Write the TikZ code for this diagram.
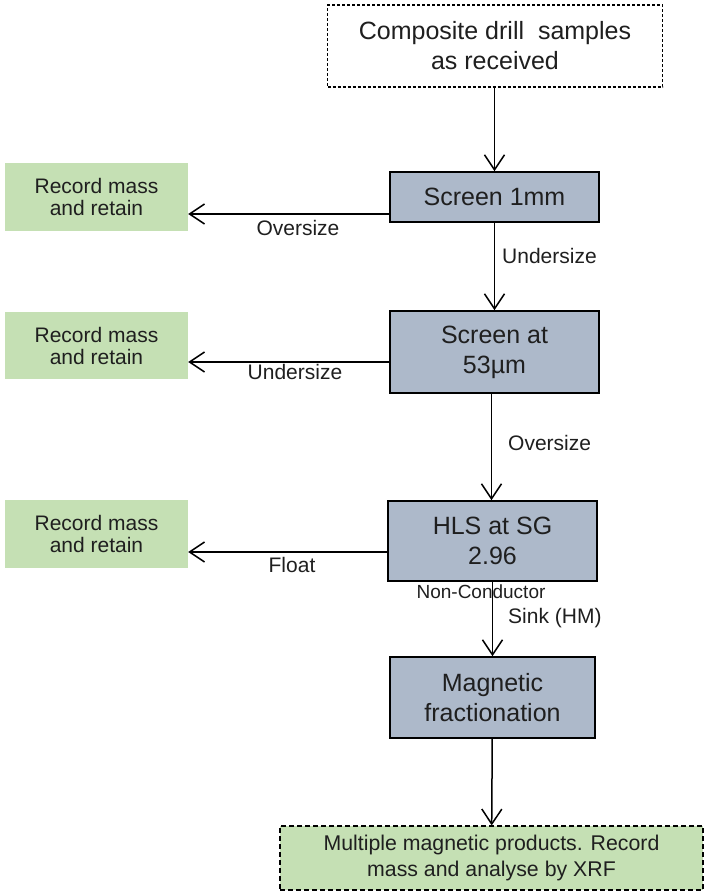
\documentclass[tikz,border=0pt]{standalone}
\usepackage{fontspec}
\setmainfont{Liberation Sans}
\usetikzlibrary{arrows.meta}
\definecolor{stepblue}{HTML}{ADB9CA}
\definecolor{keepgreen}{HTML}{C5E0B4}
\definecolor{txtgray}{HTML}{1F1F1F}

\begin{document}
\begin{tikzpicture}[x=1pt,y=-1pt,
  stage/.style={draw=black,line width=1.7pt,fill=stepblue,text=txtgray,align=center,
    minimum width=209pt,inner sep=0pt,font=\fontsize{25}{30}\selectfont},
  keep/.style={fill=keepgreen,text=txtgray,align=center,minimum width=183pt,
    minimum height=68pt,inner sep=0pt,font=\fontsize{21}{22}\selectfont},
  lbl/.style={text=txtgray,inner sep=0pt,font=\fontsize{21}{24}\selectfont},
  flow/.style={line width=1.5pt,-{Straight Barb[length=15pt,width=20pt,line width=1.5pt]}}]

\useasboundingbox (0,0) rectangle (705,892);

% Feed and the two screens
\node[stage,fill=white,dash pattern=on 3pt off 2pt,line width=1.2pt,minimum width=335pt,minimum height=82pt] (feed) at (495,46) {Composite drill\ \ samples\\as received};
\node[stage,minimum height=50pt] (scrA) at (494.5,197) {Screen 1mm};
\node[stage,minimum height=82pt] (scrB) at (494.5,352) {Screen at\\53µm};

% Heavy liquid and magnetic steps
\node[stage,minimum height=80pt] (hls) at (492.5,541) {HLS at SG\\2.96};
\node[stage,minimum width=205pt,minimum height=81pt] (mag) at (492.5,697.5) {Magnetic\\fractionation};
\node[keep,dash pattern=on 5pt off 3pt,draw=black,line width=1.2pt,minimum width=423pt,minimum height=64pt,font=\fontsize{21.3}{26}\selectfont] (prod) at (491.5,858) {Multiple magnetic products. Record\\mass and analyse by XRF};

% Retained fractions
\node[keep] (recA) at (96.5,197) {Record mass\\and retain};
\node[keep,minimum height=67pt] (recB) at (96.5,345.5) {Record mass\\and retain};
\node[keep] (recC) at (96.5,534) {Record mass\\and retain};

% Main line down
\draw[flow] (feed.south -| scrA.north) -- (scrA.north);
\draw[flow] (scrA) -- (scrB);
\draw[flow] ([xshift=-3pt]scrB.south) -- ([xshift=-3pt]scrB.south |- hls.north);
\draw[flow] (hls) -- (mag);
\draw[flow] (mag) -- (prod);

% Side streams
\coordinate (outA) at ([yshift=-17pt]scrA.west);
\coordinate (outB) at ([yshift=-10pt]scrB.west);
\coordinate (outC) at ([yshift=-11pt]hls.west);
\draw[flow] (outA) -- (outA -| recA.east);
\draw[flow] (outB) -- (outB -| recB.east);
\draw[flow] (outC) -- (outC -| recC.east);

% Stream labels
\node[lbl] (lOverA) at (298,228) {Oversize};
\node[lbl] (lUnderB) at (295,372) {Undersize};
\node[lbl] (lFloat) at (292,565) {Float};
\node[lbl,anchor=west] (lUnderA) at (502,256) {Undersize};
\node[lbl,anchor=west] (lOverB) at (508,443) {Oversize};
\node[lbl,font=\fontsize{19}{22}\selectfont] (lNonCon) at (481,592) {Non-Conductor};
\node[lbl,anchor=west] (lSink) at (508,618) {Sink (HM)};

\end{tikzpicture}
\end{document}
